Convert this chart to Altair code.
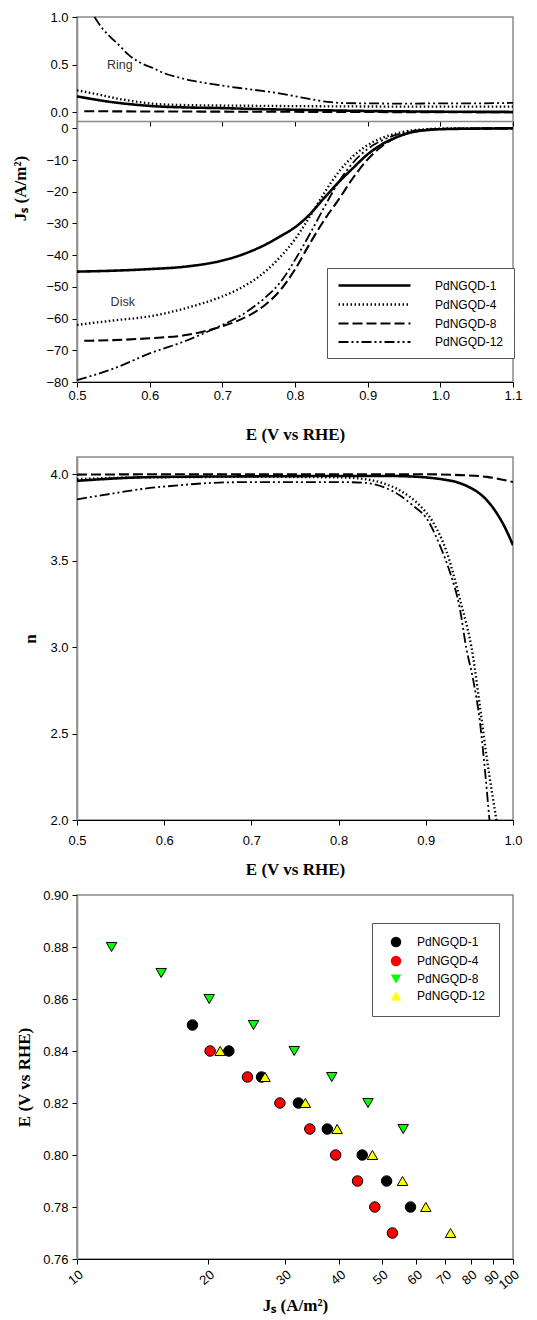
import altair as alt
import pandas as pd

# ---------------------------------------------------------------- series
SERIES = ["PdNGQD-1", "PdNGQD-4", "PdNGQD-8", "PdNGQD-12"]
DASHES = [[1, 0], [1.5, 2.5], [10, 4], [10, 3, 2, 3, 2, 3]]
WIDTHS = [2.6, 1.8, 2.6, 2.6]
FILLS = ["#000000", "#ff0000", "#00ff00", "#ffff00"]
SHAPES = ["circle", "circle", "triangle-down", "triangle-up"]

# ---------------------------------------------------------------- ring current (A/m2)
ring_e_1 = [0.50, 0.525, 0.546, 0.575, 0.606, 0.65, 0.70, 0.75, 0.80, 0.90, 1.00, 1.10]
ring_j_1 = [0.168, 0.135, 0.110, 0.085, 0.065, 0.052, 0.045, 0.035, 0.028, 0.015, 0.008, 0.005]
ring_e_4 = [0.50, 0.525, 0.546, 0.575, 0.606, 0.65, 0.70, 0.75, 0.80, 0.90, 1.00, 1.10]
ring_j_4 = [0.232, 0.195, 0.160, 0.120, 0.090, 0.077, 0.072, 0.069, 0.066, 0.062, 0.060, 0.060]
ring_e_8 = [0.51, 0.60, 0.70, 0.80, 0.90, 1.00, 1.10]
ring_j_8 = [0.012, 0.010, 0.008, 0.006, 0.004, 0.002, 0.002]
ring_e_12 = [0.524, 0.535, 0.546, 0.56, 0.57, 0.59, 0.606, 0.62, 0.638, 0.66, 0.684, 0.71,
             0.73, 0.755, 0.775, 0.80, 0.821, 0.845, 0.867, 0.90, 0.95, 1.00, 1.05, 1.10]
ring_j_12 = [1.00, 0.88, 0.79, 0.69, 0.61, 0.51, 0.46, 0.41, 0.37, 0.33, 0.30, 0.27,
             0.25, 0.225, 0.205, 0.17, 0.14, 0.11, 0.098, 0.095, 0.092, 0.095, 0.095, 0.10]

# ---------------------------------------------------------------- disk current (A/m2)
disk_e = [0.50, 0.55, 0.60, 0.65, 0.70, 0.72, 0.74, 0.76, 0.78, 0.80, 0.82,
          0.84, 0.86, 0.88, 0.90, 0.92, 0.94, 0.96, 0.98, 1.00, 1.05, 1.10]
disk_e_8 = [0.51] + disk_e[1:]
disk_j_1 = [-45.2, -44.9, -44.4, -43.6, -41.7, -40.4, -38.7, -36.6, -34.0, -31.2, -27.2,
            -22.0, -17.0, -12.5, -8.2, -5.0, -2.8, -1.3, -0.6, -0.3, -0.1, 0.0]
disk_j_4 = [-62.0, -60.6, -59.3, -56.7, -53.0, -51.0, -48.4, -45.0, -40.5, -35.0, -28.0,
            -20.5, -13.8, -8.8, -5.3, -3.0, -1.6, -0.7, -0.3, -0.1, 0.0, 0.0]
disk_j_8 = [-67.0, -66.8, -66.2, -65.2, -62.4, -60.8, -58.6, -55.5, -51.0, -44.5, -36.5,
            -29.0, -22.5, -15.6, -9.8, -5.6, -2.8, -1.2, -0.5, -0.2, -0.1, 0.0]
disk_j_12 = [-79.4, -75.8, -71.0, -67.0, -62.0, -59.8, -56.8, -53.2, -48.5, -41.5, -33.5,
             -25.0, -17.0, -10.8, -6.5, -3.8, -2.0, -0.9, -0.4, -0.2, -0.1, 0.0]

# ---------------------------------------------------------------- electron transfer number
n_e_1 = [0.50, 0.53, 0.56, 0.60, 0.70, 0.80, 0.86, 0.88, 0.90, 0.92, 0.935, 0.95, 0.96,
         0.97, 0.98, 0.99, 1.00]
n_1 = [3.962, 3.972, 3.980, 3.985, 3.988, 3.990, 3.990, 3.988, 3.982, 3.970, 3.955, 3.925,
       3.895, 3.850, 3.785, 3.700, 3.590]
n_e_4 = [0.50, 0.55, 0.60, 0.70, 0.80, 0.83, 0.85, 0.87, 0.893, 0.908, 0.924, 0.939, 0.954,
         0.962, 0.970, 0.981]
n_4 = [3.972, 3.980, 3.983, 3.985, 3.982, 3.972, 3.950, 3.907, 3.820, 3.725, 3.550, 3.280,
       2.950, 2.660, 2.357, 2.000]
n_e_8 = [0.50, 0.60, 0.70, 0.80, 0.90, 0.94, 0.97, 1.00]
n_8 = [3.998, 4.000, 4.000, 4.000, 4.000, 3.995, 3.985, 3.955]
n_e_12 = [0.50, 0.54, 0.578, 0.616, 0.654, 0.70, 0.80, 0.832, 0.851, 0.870, 0.885, 0.901,
          0.916, 0.9275, 0.939, 0.9466, 0.954, 0.962, 0.968, 0.973]
n_12 = [3.855, 3.888, 3.917, 3.936, 3.950, 3.955, 3.955, 3.950, 3.927, 3.879, 3.820, 3.744,
        3.590, 3.436, 3.224, 2.990, 2.820, 2.570, 2.280, 2.000]

# ---------------------------------------------------------------- Tafel-type points
tafel_e_1 = [0.85, 0.84, 0.83, 0.82, 0.81, 0.80, 0.79, 0.78]
tafel_j_1 = [18.4, 22.3, 26.5, 32.2, 37.5, 45.1, 51.3, 58.2]
tafel_e_4 = [0.84, 0.83, 0.82, 0.81, 0.80, 0.79, 0.78, 0.77]
tafel_j_4 = [20.2, 24.6, 29.2, 34.2, 39.2, 44.0, 48.2, 52.9]
tafel_e_8 = [0.88, 0.87, 0.86, 0.85, 0.84, 0.83, 0.82, 0.81]
tafel_j_8 = [12.0, 15.6, 20.1, 25.4, 31.5, 38.4, 46.5, 56.0]
tafel_e_12 = [0.84, 0.83, 0.82, 0.81, 0.80, 0.79, 0.78, 0.77]
tafel_j_12 = [21.3, 27.0, 33.4, 39.5, 47.6, 55.8, 63.1, 71.9]

# ---------------------------------------------------------------- tick values
x_ticks_top = [0.5, 0.6, 0.7, 0.8, 0.9, 1.0, 1.1]
ring_ticks = [0.0, 0.5, 1.0]
disk_ticks = [0, -10, -20, -30, -40, -50, -60, -70, -80]
x_ticks_mid = [0.5, 0.6, 0.7, 0.8, 0.9, 1.0]
n_ticks = [2.0, 2.5, 3.0, 3.5, 4.0]
j_ticks = [10, 20, 30, 40, 50, 60, 70, 80, 90, 100]
e_ticks = [0.76, 0.78, 0.80, 0.82, 0.84, 0.86, 0.88, 0.90]


def frame(pairs, xname, yname):
    rows = []
    for name, xs, ys in pairs:
        for a, b in zip(xs, ys):
            rows.append({"series": name, xname: a, yname: b})
    return pd.DataFrame(rows)


ring_df = frame([(SERIES[0], ring_e_1, ring_j_1), (SERIES[1], ring_e_4, ring_j_4),
                 (SERIES[2], ring_e_8, ring_j_8), (SERIES[3], ring_e_12, ring_j_12)], "E", "J")
disk_df = frame([(SERIES[0], disk_e, disk_j_1), (SERIES[1], disk_e, disk_j_4),
                 (SERIES[2], disk_e_8, disk_j_8), (SERIES[3], disk_e, disk_j_12)], "E", "J")
n_df = frame([(SERIES[0], n_e_1, n_1), (SERIES[1], n_e_4, n_4),
              (SERIES[2], n_e_8, n_8), (SERIES[3], n_e_12, n_12)], "E", "n")
tafel_df = frame([(SERIES[0], tafel_j_1, tafel_e_1), (SERIES[1], tafel_j_4, tafel_e_4),
                  (SERIES[2], tafel_j_8, tafel_e_8), (SERIES[3], tafel_j_12, tafel_e_12)], "J", "E")

# ---------------------------------------------------------------- layout constants
W = 436
RING_H = 104
TOP_H = 365
MID_H = 363
BOT_H = 364
GRAY = "#8a8a8a"
SANS = "Liberation Sans"
SERIF = "Liberation Serif"

# a long horizontal stroke as legend sample (path is scaled by sqrt(symbolSize)/2)
LINE_SAMPLE = "M-6,0L6,0"

line_legend = alt.Legend(
    title=None, orient="none", legendX=250, legendY=251,
    symbolType=LINE_SAMPLE, symbolSize=144, symbolStrokeWidth=2, symbolStrokeColor="black",
    symbolFillColor="transparent", symbolOffset=30,
    labelFont=SANS, labelFontSize=12, labelColor="black", labelOffset=53,
    padding=10, rowPadding=5, fillColor="white", strokeColor="#555555",
)
dash_enc = alt.StrokeDash("series:N", sort=SERIES,
                          scale=alt.Scale(domain=SERIES, range=DASHES), legend=line_legend)
width_enc = alt.StrokeWidth("series:O", sort=SERIES,
                            scale=alt.Scale(domain=SERIES, range=WIDTHS), legend=None)
e_scale_top = alt.Scale(domain=[0.5, 1.1], nice=False, zero=False)

# ---- ring panel (upper band of the top plot)
ring_lines = alt.Chart(ring_df).mark_line(color="black", interpolate="monotone").encode(
    x=alt.X("E:Q", scale=e_scale_top,
            axis=alt.Axis(orient="bottom", offset=RING_H - TOP_H, labels=False, title=None,
                          values=x_ticks_top, domainColor=GRAY, domainWidth=1.5)),
    y=alt.Y("J:Q", scale=alt.Scale(domain=[-0.09, 1.0], range=[RING_H, 0], nice=False, zero=False),
            axis=alt.Axis(orient="left", values=ring_ticks, format=".1f", title=None)),
    strokeDash=dash_enc,
    strokeWidth=width_enc,
)
ring_note = alt.Chart(pd.DataFrame({"E": [0.559], "J": [0.50], "t": ["Ring"]})).mark_text(
    font=SANS, fontSize=12.5, color="#333333").encode(x="E:Q", y="J:Q", text="t:N")
ring_layer = alt.layer(ring_lines, ring_note)

# ---- disk panel (lower band of the top plot)
disk_lines = alt.Chart(disk_df).mark_line(color="black", interpolate="monotone").encode(
    x=alt.X("E:Q", scale=e_scale_top,
            axis=alt.Axis(orient="bottom", values=x_ticks_top, format=".1f",
                          title="E (V vs RHE)", labelPadding=2, titlePadding=24)),
    y=alt.Y("J:Q", scale=alt.Scale(domain=[-80, 2.3], range=[TOP_H, RING_H], nice=False, zero=False),
            axis=alt.Axis(orient="left", values=disk_ticks, format="d",
                          title="Jₛ (A/m²)", titleY=171, titlePadding=16)),
    strokeDash=dash_enc,
    strokeWidth=width_enc,
)
disk_note = alt.Chart(pd.DataFrame({"E": [0.563], "J": [-54.9], "t": ["Disk"]})).mark_text(
    font=SANS, fontSize=12.5, color="#333333").encode(x="E:Q", y="J:Q", text="t:N")
disk_layer = alt.layer(disk_lines, disk_note)

top = alt.layer(ring_layer, disk_layer).resolve_scale(
    x="independent", y="independent").properties(width=W, height=TOP_H)

# ---- electron transfer number
mid = alt.Chart(n_df).mark_line(color="black", interpolate="monotone", clip=True).encode(
    x=alt.X("E:Q", scale=alt.Scale(domain=[0.5, 1.0], nice=False, zero=False),
            axis=alt.Axis(values=x_ticks_mid, format=".1f", title="E (V vs RHE)",
                          labelPadding=9, titlePadding=14)),
    y=alt.Y("n:Q", scale=alt.Scale(domain=[2.0, 4.1], nice=False, zero=False),
            axis=alt.Axis(values=n_ticks, format=".1f", title="n", titlePadding=10)),
    strokeDash=alt.StrokeDash("series:N", sort=SERIES,
                              scale=alt.Scale(domain=SERIES, range=DASHES), legend=None),
    strokeWidth=alt.StrokeWidth("series:O", sort=SERIES,
                                scale=alt.Scale(domain=SERIES, range=WIDTHS), legend=None),
).properties(width=W, height=MID_H)

# ---- potential vs current density (log axis)
point_legend = alt.Legend(
    title=None, orient="none", legendX=295, legendY=28,
    symbolSize=110, symbolStrokeColor="black", symbolStrokeWidth=1, symbolOffset=5,
    labelFont=SANS, labelFontSize=12, labelColor="black", labelOffset=15,
    padding=13, rowPadding=3, fillColor="white", strokeColor="#555555",
)
bot = alt.Chart(tafel_df).mark_point(filled=True, size=110, stroke="black", strokeWidth=1,
                                     opacity=1).encode(
    x=alt.X("J:Q", scale=alt.Scale(type="log", domain=[10, 100], nice=False),
            axis=alt.Axis(values=j_ticks, format="d", labelAngle=320, title="Jₛ (A/m²)",
                          titlePadding=6, labelOverlap=False, labelBound=False)),
    y=alt.Y("E:Q", scale=alt.Scale(domain=[0.76, 0.90], nice=False, zero=False),
            axis=alt.Axis(values=e_ticks, format=".2f", title="E (V vs RHE)", titlePadding=9)),
    fill=alt.Fill("series:N", sort=SERIES, scale=alt.Scale(domain=SERIES, range=FILLS),
                  legend=point_legend),
    shape=alt.Shape("series:N", sort=SERIES, scale=alt.Scale(domain=SERIES, range=SHAPES),
                    legend=point_legend),
).properties(width=W, height=BOT_H)

chart = alt.vconcat(top, mid, bot, spacing=75, bounds="flush").resolve_scale(
    strokeDash="independent", strokeWidth="independent", fill="independent", shape="independent"
).resolve_legend(
    strokeDash="independent", strokeWidth="independent", fill="independent", shape="independent"
).properties(
    padding={"left": 11, "top": 10, "right": 5, "bottom": 5}
).configure_view(stroke=GRAY, strokeWidth=1.5).configure_axis(
    labelFont=SANS, labelFontSize=13, labelColor="black", labelFlush=False,
    titleFont=SERIF, titleFontSize=17, titleFontWeight="bold", titleColor="black",
    tickColor="black", tickSize=5, labelPadding=4, grid=False,
    domainColor=GRAY, domainWidth=1.5,
).configure_axisX(domainColor="black", domainWidth=1)

chart.save("out.html", embed_options={"renderer": "svg", "actions": False})
